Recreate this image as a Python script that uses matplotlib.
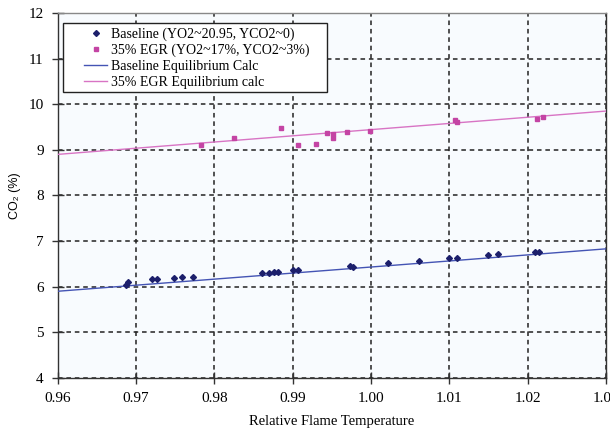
import numpy as np
import matplotlib
matplotlib.use('Agg')
import matplotlib.pyplot as plt
import matplotlib.patches as mpatches

# ── data ─────────────────────────────────────────────────────────────────────
base_x = [0.9687, 0.9690, 0.9721, 0.9727, 0.9749, 0.9759, 0.9773,
          0.9861, 0.9870, 0.9876, 0.9881, 0.9900, 0.9907, 0.9973, 0.9977,
          1.0022, 1.0061, 1.0100, 1.0110, 1.0149, 1.0162, 1.0210, 1.0214]
base_y = [6.04, 6.11, 6.17, 6.17, 6.19, 6.22, 6.21,
          6.31, 6.31, 6.33, 6.33, 6.36, 6.36, 6.45, 6.44,
          6.53, 6.57, 6.64, 6.64, 6.69, 6.71, 6.77, 6.77]

egr_x = [0.9783, 0.9825, 0.9885, 0.9907, 0.9930, 0.9944, 0.9952, 0.9952,
         0.9970, 0.9999, 1.0108, 1.0110, 1.0212, 1.0220]
egr_y = [9.10, 9.27, 9.47, 9.11, 9.13, 9.37, 9.34, 9.27,
         9.39, 9.41, 9.65, 9.60, 9.68, 9.72]

eq_x = [0.96, 1.03]
eq_base = [5.90, 6.83]
eq_egr = [8.90, 9.85]

x_ticks = [0.96, 0.97, 0.98, 0.99, 1.00, 1.01, 1.02, 1.03]
y_ticks = [4, 5, 6, 7, 8, 9, 10, 11, 12]

labels = ['Baseline (YO2~20.95, YCO2~0)', '35% EGR (YO2~17%, YCO2~3%)',
          'Baseline Equilibrium Calc', '35% EGR Equilibrium calc']

SERIF = ['Liberation Serif', 'DejaVu Serif']

# ── figure ───────────────────────────────────────────────────────────────────
fig = plt.figure(figsize=(6.1, 4.4), dpi=100)
ax = fig.add_axes([0.0943, 0.141, 0.899, 0.8295])
ax.set_facecolor('#f8fbfe')

ax.plot(base_x, base_y, 'D', color='#1c1f6b', markersize=3.0, linestyle='none',
        label=labels[0], zorder=4)
ax.plot(egr_x, egr_y, 's', color='#c444a4', markersize=3.4, linestyle='none',
        label=labels[1], zorder=4)
ax.plot(eq_x, eq_base, '-', color='#4454b4', linewidth=1.0, label=labels[2], zorder=3)
ax.plot(eq_x, eq_egr, '-', color='#d874c4', linewidth=1.0, label=labels[3], zorder=3)

ax.set_xlim(0.96, 1.03)
ax.set_ylim(4, 12)
ax.set_xticks(x_ticks)
ax.set_yticks(y_ticks)
ax.set_xticklabels([f'{v:.2f}' for v in x_ticks], family=SERIF, fontsize=11)
ax.set_yticklabels([str(v) for v in y_ticks], family=SERIF, fontsize=11)
ax.tick_params(direction='inout', length=8, width=1, color='#333333', pad=6)

ax.grid(True, color='#222222', linestyle=(0, (3, 2.5)), linewidth=1.1)
ax.set_axisbelow(True)
for s in ax.spines.values():
    s.set_color('#333333')
    s.set_linewidth(1.0)
ax.spines['top'].set_color('#888888')

ax.set_xlabel('Relative Flame Temperature', family=SERIF, fontsize=10.5, labelpad=7)
ax.set_ylabel('CO₂ (%)', family=['Liberation Sans', 'DejaVu Sans'], fontsize=9, labelpad=5)

# legend box drawn separately (the original has wide padding inside the frame)
box = mpatches.Rectangle((0.0095, 0.7844), 0.4818, 0.189, transform=ax.transAxes,
                         facecolor='white', edgecolor='#222222', linewidth=1.0, zorder=5)
ax.add_patch(box)
leg = ax.legend(loc='upper left', bbox_to_anchor=(0.049, 0.96), borderaxespad=0,
                prop={'family': SERIF, 'size': 10}, frameon=False,
                handlelength=1.6, handletextpad=0.3, labelspacing=0.2, borderpad=0)
leg.set_zorder(6)

fig.savefig('out.png', dpi=100)
